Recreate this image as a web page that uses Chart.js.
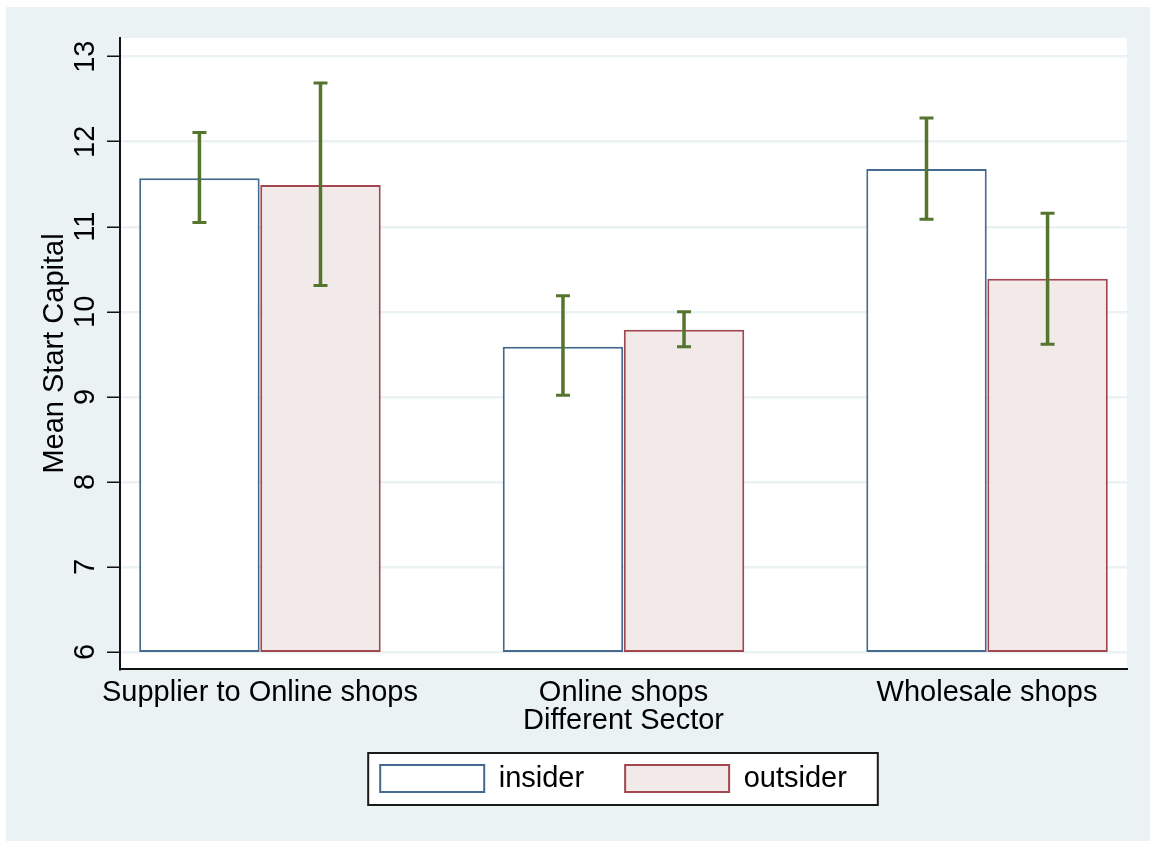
<!DOCTYPE html>
<html>
<head>
<meta charset="utf-8">
<title>Mean Start Capital</title>
<script src="https://cdn.jsdelivr.net/npm/chart.js@4.4.1/dist/chart.umd.min.js"></script>
<style>
  html, body { margin: 0; padding: 0; background: #ffffff; }
  #c { display: block; }
</style>
</head>
<body>
<canvas id="c" width="1150" height="841"></canvas>
<script>
// ---- data ----
const categories = [
  ['Supplier to Online shops'],
  ['Online shops', 'Different Sector'],
  ['Wholesale shops']
];
const seriesNames = ['insider', 'outsider'];

const insiderMean = [11.57, 9.59, 11.68];
const insiderLow  = [11.05, 9.02, 11.09];
const insiderHigh = [12.11, 10.19, 12.28];

const outsiderMean = [11.49, 9.79, 10.39];
const outsiderLow  = [10.31, 9.59, 9.62];
const outsiderHigh = [12.69, 10.00, 11.16];

const yTicks = [6, 7, 8, 9, 10, 11, 12, 13];
const barBase = 6;

// ---- styles ----
const FONT = "'Liberation Sans', Arial, Helvetica, sans-serif";
const BG = '#EAF2F3';
const CI_COLOR = '#55752F';

Chart.defaults.font.family = FONT;
Chart.defaults.font.size = 29;
Chart.defaults.color = '#000000';

// page background, plot region and the framed legend
const backdrop = {
  id: 'backdrop',
  afterLayout(chart) {
    const lg = chart.legend;
    lg.left -= 10;
    lg.right -= 10;
    lg.top = 723;
    lg.bottom = lg.top + lg.height;
  },
  beforeDraw(chart) {
    const { ctx, chartArea: a } = chart;
    ctx.save();
    ctx.fillStyle = '#ffffff';
    ctx.fillRect(0, 0, chart.width, chart.height);
    ctx.fillStyle = BG;
    ctx.fillRect(6, 7, chart.width - 6, chart.height - 7);
    ctx.fillStyle = '#ffffff';
    ctx.fillRect(a.left, a.top, a.right - a.left, a.bottom - a.top);

    const hb = chart.legend.legendHitBoxes;
    if (hb && hb.length) {
      const first = hb[0], last = hb[hb.length - 1];
      const x0 = first.left - 12;
      const y0 = first.top - 11;
      const x1 = last.left + last.width + 31;
      const y1 = first.top + first.height + 12;
      ctx.fillStyle = '#ffffff';
      ctx.fillRect(x0, y0, x1 - x0, y1 - y0);
      ctx.strokeStyle = '#1a1a1a';
      ctx.lineWidth = 2;
      ctx.strokeRect(x0, y0, x1 - x0, y1 - y0);
    }
    ctx.restore();
  }
};

// confidence intervals on top of each bar
const ciBars = {
  id: 'ciBars',
  afterDatasetsDraw(chart) {
    const { ctx } = chart;
    const yScale = chart.scales.y;
    ctx.save();
    ctx.strokeStyle = CI_COLOR;
    ctx.lineCap = 'butt';
    chart.data.datasets.forEach((ds, i) => {
      const meta = chart.getDatasetMeta(i);
      meta.data.forEach((bar, j) => {
        const x = bar.x;
        const yHi = yScale.getPixelForValue(ds.ciHigh[j]);
        const yLo = yScale.getPixelForValue(ds.ciLow[j]);
        ctx.lineWidth = 3.5;
        ctx.beginPath();
        ctx.moveTo(x, yHi);
        ctx.lineTo(x, yLo);
        ctx.stroke();
        ctx.lineWidth = 3;
        ctx.beginPath();
        ctx.moveTo(x - 7, yHi);
        ctx.lineTo(x + 7, yHi);
        ctx.moveTo(x - 7, yLo);
        ctx.lineTo(x + 7, yLo);
        ctx.stroke();
      });
    });
    ctx.restore();
  }
};

const toBars = means => means.map((v, i) => ({ x: i, y: [barBase, v] }));

new Chart(document.getElementById('c'), {
  type: 'bar',
  data: {
    datasets: [
      {
        label: seriesNames[0],
        data: toBars(insiderMean),
        ciLow: insiderLow,
        ciHigh: insiderHigh,
        backgroundColor: '#ffffff',
        borderColor: '#46698F',
        borderWidth: 2,
        borderSkipped: false,
        categoryPercentage: 0.666,
        barPercentage: 0.995
      },
      {
        label: seriesNames[1],
        data: toBars(outsiderMean),
        ciLow: outsiderLow,
        ciHigh: outsiderHigh,
        backgroundColor: '#F2E9E9',
        borderColor: '#A24750',
        borderWidth: 2,
        borderSkipped: false,
        categoryPercentage: 0.666,
        barPercentage: 0.995
      }
    ]
  },
  options: {
    responsive: false,
    animation: false,
    events: [],
    layout: { padding: { left: 0, top: 38, right: 23, bottom: 0 } },
    scales: {
      x: {
        type: 'linear',
        min: -0.385,
        max: 2.385,
        offset: false,
        afterBuildTicks: s => { s.ticks = categories.map((c, i) => ({ value: i })); },
        afterFit: s => { s.height = 92; },
        ticks: {
          callback: (v, i) => categories[i],
          autoSkip: false,
          minRotation: 0,
          maxRotation: 0,
          padding: 10,
          color: '#000000',
          font: { size: 29, lineHeight: '28px' }
        },
        grid: { display: true, color: 'rgba(0,0,0,0)', drawTicks: false, drawOnChartArea: false },
        border: { display: true, color: '#111111', width: 2 }
      },
      y: {
        type: 'linear',
        min: 5.8,
        max: 13.22,
        afterBuildTicks: s => { s.ticks = yTicks.map(v => ({ value: v })); },
        afterFit: s => { s.width = 120; },
        ticks: {
          minRotation: 90,
          maxRotation: 90,
          crossAlign: 'center',
          padding: 5,
          color: '#000000',
          font: { size: 29 }
        },
        grid: {
          color: BG,
          lineWidth: 2.5,
          drawTicks: true,
          tickLength: 13,
          tickColor: '#111111',
          tickWidth: 1.5
        },
        border: { display: true, color: '#111111', width: 2 },
        title: {
          display: true,
          text: 'Mean Start Capital',
          color: '#000000',
          font: { size: 29 },
          padding: { top: 38, bottom: 0 }
        }
      }
    },
    plugins: {
      tooltip: { enabled: false },
      legend: {
        display: true,
        position: 'bottom',
        fullSize: false,
        align: 'center',
        labels: {
          boxWidth: 104,
          boxHeight: 27,
          padding: 41,
          color: '#000000',
          font: { size: 29 }
        }
      }
    }
  },
  plugins: [backdrop, ciBars]
});
</script>
</body>
</html>
